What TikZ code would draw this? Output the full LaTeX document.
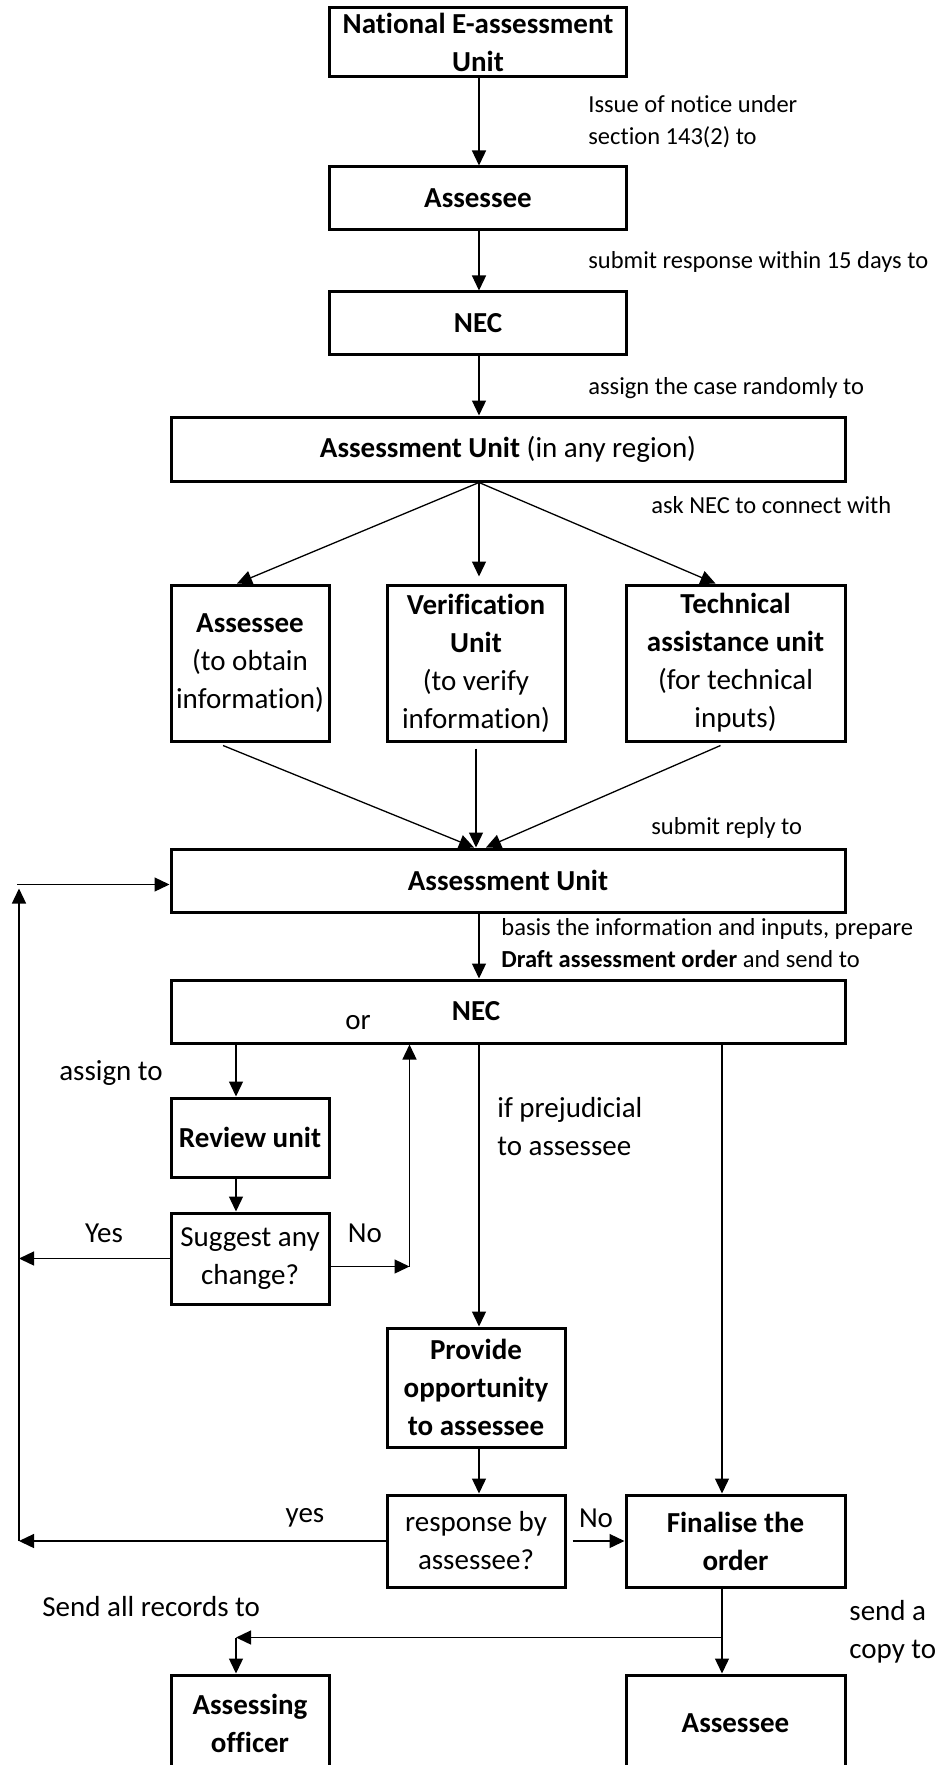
\documentclass[tikz,border=0pt]{standalone}
\usepackage{fontspec}
\setmainfont{Carlito}[Ligatures={NoCommon}]
\usetikzlibrary{calc,arrows.meta}

\newcommand{\bigtxt}{\fontsize{14.5}{19}\selectfont}
\newcommand{\smalltxt}{\fontsize{12.25}{16}\selectfont}

\tikzset{
  box/.style 2 args={draw, line width=1.5pt, align=center, font=\bigtxt, inner sep=2pt,
    minimum width=#1*0.5pt, minimum height=#2*0.5pt},
  arr/.style={-{Triangle[length=7.5pt,width=7pt]}, line width=0.65pt},
  lbl/.style={anchor=west, inner sep=0pt, align=left, font=\smalltxt},
  note/.style={inner sep=0pt, align=left, font=\bigtxt}
}

\begin{document}
\begin{tikzpicture}[x=0.5pt,y=-0.5pt]
\useasboundingbox (0,0) rectangle (939,1765);

%% columns for the connectors
\coordinate (col) at (479,0);
\coordinate (lc) at (236,0);
\coordinate (rc) at (722,0);
\coordinate (lx) at (19,0);

%% boxes
\node[box={297}{69}] (neau) at (478,42.5) {\textbf{National E-assessment}\\\textbf{Unit}};
\node[box={297}{63}] (ase1) at (478,198.5) {\textbf{Assessee}};
\node[box={297}{63}] (nec1) at (478,323.5) {\textbf{NEC}};
\node[box={674}{64}] (au1) at (508,449) {\textbf{Assessment Unit} (in any region)};
\node[box={158}{156}] (ase2) at (250,663) {\textbf{Assessee}\\(to obtain\\information)};
\node[box={178}{156}] (ver) at (476,663) {\textbf{Verification}\\\textbf{Unit}\\(to verify\\information)};
\node[box={219}{156}] (tech) at (735.5,663) {\textbf{Technical}\\\textbf{assistance unit}\\(for technical\\inputs)};
\node[box={674}{63}] (au2) at (508,880.5) {\textbf{Assessment Unit}};
\node[box={674}{63}] (nec2) at (508,1011.5) {\hspace*{-32pt}\textbf{NEC}};
\node[box={158}{79}] (rev) at (250,1137.5) {\textbf{Review unit}};
\node[box={158}{91}] (sug) at (250,1258.5) {Suggest any\\change?};
\node[box={178}{119}] (prov) at (476,1387.5) {\textbf{Provide}\\\textbf{opportunity}\\\textbf{to assessee}};
\node[box={178}{92}] (resp) at (476,1541) {response by\\assessee?};
\node[box={219}{92}] (fin) at (735.5,1541) {\textbf{Finalise the}\\\textbf{order}};
\node[box={158}{97}] (ao) at (250,1723.5) {\textbf{Assessing}\\\textbf{officer}};
\node[box={219}{97}] (ase3) at (735.5,1723.5) {\textbf{Assessee}};

%% texts beside the arrows
\node[lbl] (t1) at (588,122) {Issue of notice under\\section 143(2) to};
\node[lbl] (t2) at (588,262) {submit response within 15 days to};
\node[lbl] (t3) at (588,388) {assign the case randomly to};
\node[lbl] (t4) at (651,505) {ask NEC to connect with};
\node[lbl] (t5) at (651,828) {submit reply to};
\node[lbl] (t6) at (501,943) {basis the information and inputs, prepare\\\textbf{Draft assessment order} and send to};
\node[note] (or) at (358,1023) {or};
\node[note] (t7) at (111,1073) {assign to};
\node[note, anchor=west] (t8) at (497,1127) {if prejudicial\\to assessee};
\node[note] (yes1) at (104,1233) {Yes};
\node[note] (no1) at (365,1233) {No};
\node[note] (yes2) at (305,1518) {yes};
\node[note] (no2) at (596,1518) {No};
\node[note, anchor=west] (t9) at (42,1607) {Send all records to};
\node[note, anchor=west] (t10) at (849,1632) {send a\\copy to};

%% main column
\draw[arr] (neau.south -| col) -- (ase1.north -| col);
\draw[arr] (ase1.south -| col) -- (nec1.north -| col);
\draw[arr] (nec1.south -| col) -- (au1.north -| col);

%% fan out and back
\draw[arr] (au1.south -| col) -- ($(ase2.north)+(-13,0)$);
\draw[arr, shorten >=3.5pt] (au1.south -| col) -- (ver.north -| col);
\draw[arr] (au1.south -| col) -- ($(tech.north)+(-20,0)$);
\draw[arr] ($(ase2.south)+(-27,3)$) -- ($(au2.north -| col)+(-5,0)$);
\draw[arr] ($(ver.south)+(0,6)$) -- (au2.north -| ver);
\draw[arr] ($(tech.south)+(-15,3)$) -- ($(au2.north -| col)+(7,0)$);

\draw[arr] (au2.south -| col) -- (nec2.north -| col);

%% review branch
\draw[arr] (nec2.south -| lc) -- (rev.north -| lc);
\draw[arr] (rev.south -| lc) -- (sug.north -| lc);
\draw[arr] (sug.west) -- (sug.west -| lx);
\coordinate (nx) at ($(sug.east)+(79,8)$);
\draw[arr] ($(sug.east)+(0,8)$) -- (nx);
\draw[arr] (nx) -- (nec2.south -| nx);

%% prejudicial branch
\draw[arr] (nec2.south -| col) -- (prov.north -| col);
\draw[arr] (prov.south -| col) -- (resp.north -| col);
\draw[arr] (resp.west) -- (resp.west -| lx);
\draw[arr] ([xshift=3pt]resp.east) -- (fin.west);
\draw[arr] (resp.west -| lx) -- ($(au2.west -| lx)+(0,8)$);
\draw[arr] ($(au2.west -| lx)+(-2,4)$) -- ($(au2.west)+(0,4)$);

%% final order
\draw[arr] (nec2.south -| rc) -- (fin.north -| rc);
\coordinate (br) at ($(fin.south -| rc)+(0,49)$);
\draw[arr] (fin.south -| rc) -- (ase3.north -| rc);
\draw[arr] (br) -- (br -| lc);
\draw[arr] (br -| lc) -- (ao.north -| lc);
\end{tikzpicture}
\end{document}
